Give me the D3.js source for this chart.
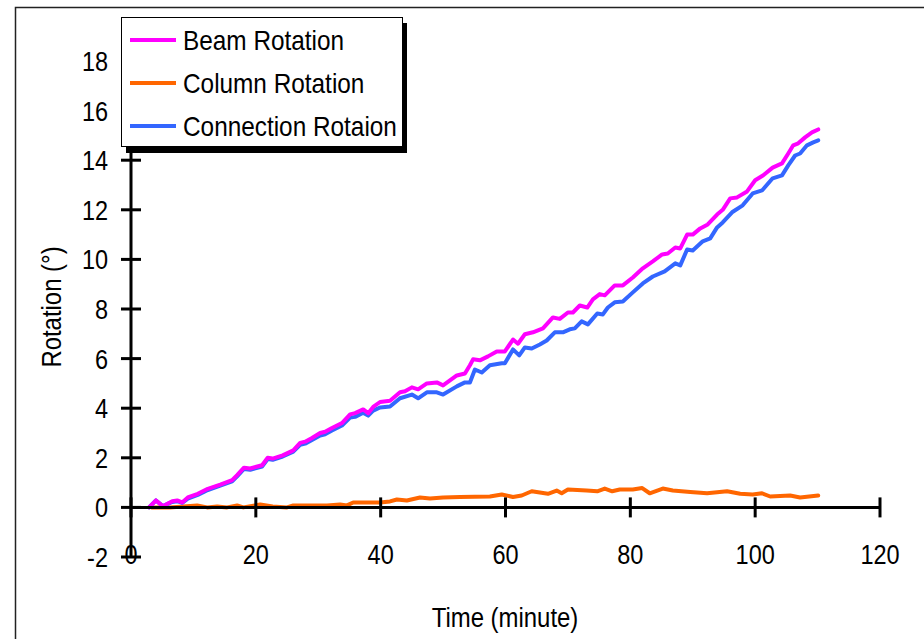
<!DOCTYPE html>
<html>
<head>
<meta charset="utf-8">
<script src="https://cdn.jsdelivr.net/npm/d3@7"></script>
<style>
  body { margin: 0; background: #fff; }
  svg text { font-family: "Liberation Sans", Arial, sans-serif; fill: #000; }
</style>
</head>
<body>
<svg id="chart" width="924" height="639"></svg>
<script>
// rotation readings (minutes, degrees)
const beamTime = [2.9, 4.0, 5.1, 6.6, 7.4, 8.2, 9.1, 10.7, 12.3, 14.3, 16.2, 17.0, 18.1, 19.1, 21.0, 21.9, 22.7, 24.3, 26.0, 27.1, 27.9, 29.0, 30.3, 31.1, 32.2, 33.8, 35.1, 35.9, 37.2, 38.0, 38.8, 39.9, 41.5, 43.1, 43.9, 45.0, 46.0, 47.4, 49.0, 50.0, 52.2, 53.5, 54.3, 54.8, 55.9, 57.2, 58.6, 59.9, 61.2, 62.0, 63.1, 64.4, 66.0, 67.6, 68.7, 70.0, 70.8, 71.9, 73.1, 74.0, 75.1, 75.9, 77.5, 78.8, 80.4, 82.0, 83.6, 85.1, 86.0, 87.2, 88.0, 89.1, 90.0, 91.2, 92.4, 93.9, 94.8, 96.0, 97.1, 98.7, 100.0, 101.3, 102.8, 104.3, 105.3, 106.1, 106.9, 108.0, 109.1, 110.1];
const beamRot = [0, 0.28, 0.05, 0.25, 0.28, 0.2, 0.4, 0.55, 0.75, 0.92, 1.1, 1.3, 1.6, 1.57, 1.7, 2.0, 1.97, 2.1, 2.3, 2.6, 2.65, 2.8, 3.0, 3.05, 3.2, 3.4, 3.75, 3.8, 3.95, 3.8, 4.05, 4.25, 4.3, 4.64, 4.68, 4.84, 4.76, 5.0, 5.04, 4.92, 5.32, 5.4, 5.73, 5.97, 5.93, 6.09, 6.29, 6.29, 6.77, 6.6, 6.98, 7.06, 7.22, 7.66, 7.6, 7.86, 7.86, 8.14, 8.06, 8.39, 8.6, 8.55, 8.95, 8.95, 9.27, 9.64, 9.92, 10.2, 10.24, 10.48, 10.44, 11.0, 11.0, 11.25, 11.41, 11.81, 12.0, 12.46, 12.5, 12.74, 13.19, 13.39, 13.7, 13.87, 14.27, 14.6, 14.68, 14.92, 15.12, 15.24];

const colTime = [3.3, 6.2, 10.6, 12.2, 13.8, 15.4, 17.0, 18.0, 20.7, 22.7, 25.0, 26.0, 31.4, 33.5, 34.6, 35.6, 38.3, 39.9, 41.5, 42.6, 44.2, 46.3, 47.9, 50.0, 52.7, 57.5, 59.4, 61.2, 62.6, 64.2, 65.5, 66.8, 68.2, 69.0, 70.0, 73.0, 74.7, 75.9, 77.1, 78.3, 80.4, 81.9, 83.1, 85.2, 86.8, 89.6, 92.3, 95.5, 97.6, 99.6, 101.1, 102.4, 105.6, 107.2, 110.1];
const colRot = [0, 0, 0.08, 0, 0.04, 0, 0.08, 0, 0.12, 0.04, 0, 0.08, 0.08, 0.12, 0.08, 0.2, 0.2, 0.2, 0.24, 0.32, 0.28, 0.4, 0.36, 0.4, 0.42, 0.44, 0.52, 0.42, 0.48, 0.65, 0.6, 0.55, 0.68, 0.57, 0.72, 0.68, 0.65, 0.76, 0.65, 0.72, 0.72, 0.78, 0.57, 0.76, 0.68, 0.62, 0.57, 0.65, 0.55, 0.52, 0.57, 0.44, 0.48, 0.4, 0.48];

const connTime = [2.9, 4.0, 5.1, 6.6, 7.4, 8.2, 9.1, 10.7, 12.3, 14.3, 16.2, 17.0, 18.1, 19.1, 21.0, 21.9, 22.7, 24.3, 26.0, 27.1, 27.9, 29.0, 30.3, 31.1, 32.2, 33.8, 35.1, 35.9, 37.2, 38.0, 38.8, 39.9, 41.5, 43.1, 45.0, 46.0, 47.4, 49.0, 50.0, 52.2, 53.5, 54.3, 55.1, 56.2, 57.5, 59.4, 59.9, 61.2, 62.2, 63.1, 64.2, 65.5, 66.6, 67.9, 69.2, 70.3, 71.1, 72.2, 73.2, 74.7, 75.6, 76.4, 77.5, 78.8, 80.4, 82.0, 83.6, 85.5, 87.2, 88.0, 89.1, 90.0, 91.6, 92.8, 93.9, 94.8, 96.3, 98.0, 99.6, 101.1, 102.8, 104.3, 105.3, 106.4, 107.2, 108.3, 109.3, 110.1];
const connRot = [0, 0.28, 0.05, 0.22, 0.25, 0.18, 0.35, 0.5, 0.7, 0.88, 1.05, 1.25, 1.55, 1.52, 1.65, 1.95, 1.92, 2.05, 2.25, 2.52, 2.57, 2.72, 2.9, 2.95, 3.1, 3.3, 3.62, 3.65, 3.82, 3.7, 3.9, 4.03, 4.07, 4.4, 4.55, 4.4, 4.64, 4.64, 4.55, 4.88, 5.04, 5.04, 5.56, 5.44, 5.73, 5.81, 5.81, 6.37, 6.13, 6.45, 6.41, 6.57, 6.73, 7.06, 7.06, 7.18, 7.22, 7.5, 7.38, 7.82, 7.78, 8.06, 8.27, 8.3, 8.67, 9.03, 9.31, 9.52, 9.84, 9.76, 10.4, 10.36, 10.73, 10.85, 11.29, 11.49, 11.9, 12.18, 12.66, 12.78, 13.27, 13.39, 13.79, 14.19, 14.27, 14.6, 14.72, 14.8];

const xTicks = [0, 20, 40, 60, 80, 100, 120];
const yTicks = [-2, 0, 2, 4, 6, 8, 10, 12, 14, 16, 18];

const seriesNames = ["Beam Rotation", "Column Rotation", "Connection Rotaion"];
const seriesColors = ["#ff00ff", "#ff6600", "#3366ff"];

const series = [
  beamTime.map((t, i) => ({t: t, v: beamRot[i]})),
  colTime.map((t, i) => ({t: t, v: colRot[i]})),
  connTime.map((t, i) => ({t: t, v: connRot[i]}))
];

// the original font is a narrow sans, so squeeze text horizontally
const squeeze = 0.87;
function placeText(sel, x, y, rot) {
  sel.attr("transform", `translate(${x},${y})` + (rot ? ` rotate(${rot})` : "") + ` scale(${squeeze},1)`);
  return sel;
}

const svg = d3.select("#chart");

// scales
const xScale = d3.scaleLinear().domain([0, 120]).range([131, 880]);
const yScale = d3.scaleLinear().domain([-2, 18]).range([557, 61]);

// outer frame
svg.append("rect")
    .attr("x", 15.5)
    .attr("y", 7.5)
    .attr("width", 940)
    .attr("height", 660)
    .attr("fill", "none")
    .attr("stroke", "#222")
    .attr("stroke-width", 1.5);

// lines
const line = d3.line()
    .x(d => xScale(d.t))
    .y(d => yScale(d.v));

// draw order: column, connection, beam
[1, 2, 0].forEach(i => {
  svg.append("path")
      .datum(series[i])
      .attr("fill", "none")
      .attr("stroke", seriesColors[i])
      .attr("stroke-width", 4)
      .attr("stroke-linejoin", "round")
      .attr("stroke-linecap", "round")
      .attr("d", line);
});

// x axis at y = 0, ticks crossing
const xAxis = svg.append("g");
xAxis.append("line")
    .attr("x1", xScale(0)).attr("x2", xScale(120))
    .attr("y1", yScale(0)).attr("y2", yScale(0))
    .attr("stroke", "#000").attr("stroke-width", 3);
xAxis.selectAll(".xtick")
  .data(xTicks)
  .enter().append("line")
    .attr("x1", d => xScale(d)).attr("x2", d => xScale(d))
    .attr("y1", yScale(0) - 10).attr("y2", yScale(0) + 10)
    .attr("stroke", "#000").attr("stroke-width", 3);
// tick labels sit at the bottom of the plot
xAxis.selectAll(".xlabel")
  .data(xTicks)
  .enter().append("text")
    .attr("text-anchor", "middle")
    .attr("font-size", "27px")
    .each(function(d) { placeText(d3.select(this), xScale(d), 564); })
    .text(d => d);

// y axis at x = 0
const yAxis = svg.append("g");
yAxis.append("line")
    .attr("x1", xScale(0)).attr("x2", xScale(0))
    .attr("y1", yScale(-2)).attr("y2", yScale(18))
    .attr("stroke", "#000").attr("stroke-width", 3);
yAxis.selectAll(".ytick")
  .data(yTicks)
  .enter().append("line")
    .attr("x1", xScale(0) - 10).attr("x2", xScale(0) + 10)
    .attr("y1", d => yScale(d)).attr("y2", d => yScale(d))
    .attr("stroke", "#000").attr("stroke-width", 3);
yAxis.selectAll(".ylabel")
  .data(yTicks)
  .enter().append("text")
    .attr("text-anchor", "end")
    .attr("font-size", "27px")
    .each(function(d) { placeText(d3.select(this), 108, yScale(d) + 10); })
    .text(d => d);

// axis titles
placeText(svg.append("text"), 505, 627)
    .attr("text-anchor", "middle")
    .attr("font-size", "27.5px")
    .text("Time (minute)");

placeText(svg.append("text"), 61, 307, -90)
    .attr("text-anchor", "middle")
    .attr("font-size", "27.5px")
    .text("Rotation (°)");

// legend with drop shadow
const legend = svg.append("g");
legend.append("rect")
    .attr("x", 126).attr("y", 23)
    .attr("width", 281).attr("height", 130)
    .attr("fill", "#000");
legend.append("rect")
    .attr("x", 121.5).attr("y", 17.5)
    .attr("width", 281).attr("height", 129)
    .attr("fill", "#fff")
    .attr("stroke", "#000")
    .attr("stroke-width", 1);

seriesNames.forEach((name, i) => {
  const cy = 40 + i * 43;
  legend.append("line")
      .attr("x1", 130).attr("x2", 176)
      .attr("y1", cy).attr("y2", cy)
      .attr("stroke", seriesColors[i])
      .attr("stroke-width", 4);
  placeText(legend.append("text"), 183, cy + 10)
      .attr("font-size", "28px")
      .text(name);
});
</script>
</body>
</html>
